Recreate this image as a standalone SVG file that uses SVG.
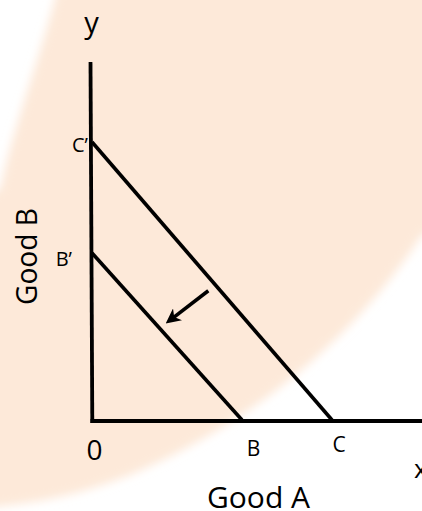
<svg xmlns="http://www.w3.org/2000/svg" width="422" height="511" viewBox="0 0 422 511">
  <defs>
    <filter id="soft" x="-10%" y="-10%" width="120%" height="120%">
      <feGaussianBlur stdDeviation="5"/>
    </filter>
    <marker id="arrowhead" viewBox="0 0 14 14" refX="8" refY="7" markerWidth="15" markerHeight="15" markerUnits="userSpaceOnUse" orient="auto">
      <path d="M0,0 L14,7 L0,14 L4,7 Z" fill="#000"/>
    </marker>
  </defs>
  <style>
    .axis { stroke: #000; stroke-width: 3.8; fill: none; }
    .budget { stroke: #000; stroke-width: 3.6; fill: none; }
    .lbl { font-family: "Open Sans", "Liberation Sans", sans-serif; fill: #000; }
  </style>
  <rect width="422" height="511" fill="#ffffff"/>
  <path id="background" d="M60,-20 L440,-20 L440,230 L422,235 C360,330 260,420 130,475 C80,495 30,505 -20,508 L-20,195 L0,190 C15,120 40,60 60,-20 Z" fill="#fde9d9" filter="url(#soft)"/>

  <g id="axes">
    <line class="axis" x1="90.5" y1="62" x2="92.3" y2="423"/>
    <line class="axis" x1="90.5" y1="421" x2="422" y2="421"/>
  </g>

  <g id="connectors">
    <line id="line-CprimeC" class="budget" x1="92" y1="142" x2="332" y2="420"/>
    <line id="line-BprimeB" class="budget" x1="92" y1="253" x2="242" y2="420"/>
    <line id="shift-arrow" class="budget" x1="208.3" y1="290.7" x2="170.8" y2="319.6" marker-end="url(#arrowhead)"/>
  </g>

  <g id="label-y"><text class="lbl" x="91.5" y="33" font-size="29" text-anchor="middle">y</text></g>
  <g id="label-x"><text class="lbl" x="414" y="478" font-size="26">x</text></g>
  <g id="label-origin"><text class="lbl" x="94.5" y="460" font-size="28" text-anchor="middle">0</text></g>
  <g id="label-Cprime"><text class="lbl" x="88" y="152" font-size="20" text-anchor="end">C’</text></g>
  <g id="label-Bprime"><text class="lbl" x="72" y="266" font-size="20" text-anchor="end">B’</text></g>
  <g id="label-B"><text class="lbl" x="253.5" y="456" font-size="21" text-anchor="middle">B</text></g>
  <g id="label-C"><text class="lbl" x="339" y="452" font-size="21" text-anchor="middle">C</text></g>
  <g id="label-goodA"><text class="lbl" x="258.5" y="508" font-size="30" text-anchor="middle" textLength="103" lengthAdjust="spacingAndGlyphs">Good A</text></g>
  <g id="label-goodB"><text class="lbl" transform="translate(37,256.5) rotate(-90)" x="0" y="0" font-size="29" text-anchor="middle" textLength="97" lengthAdjust="spacingAndGlyphs">Good B</text></g>
</svg>
